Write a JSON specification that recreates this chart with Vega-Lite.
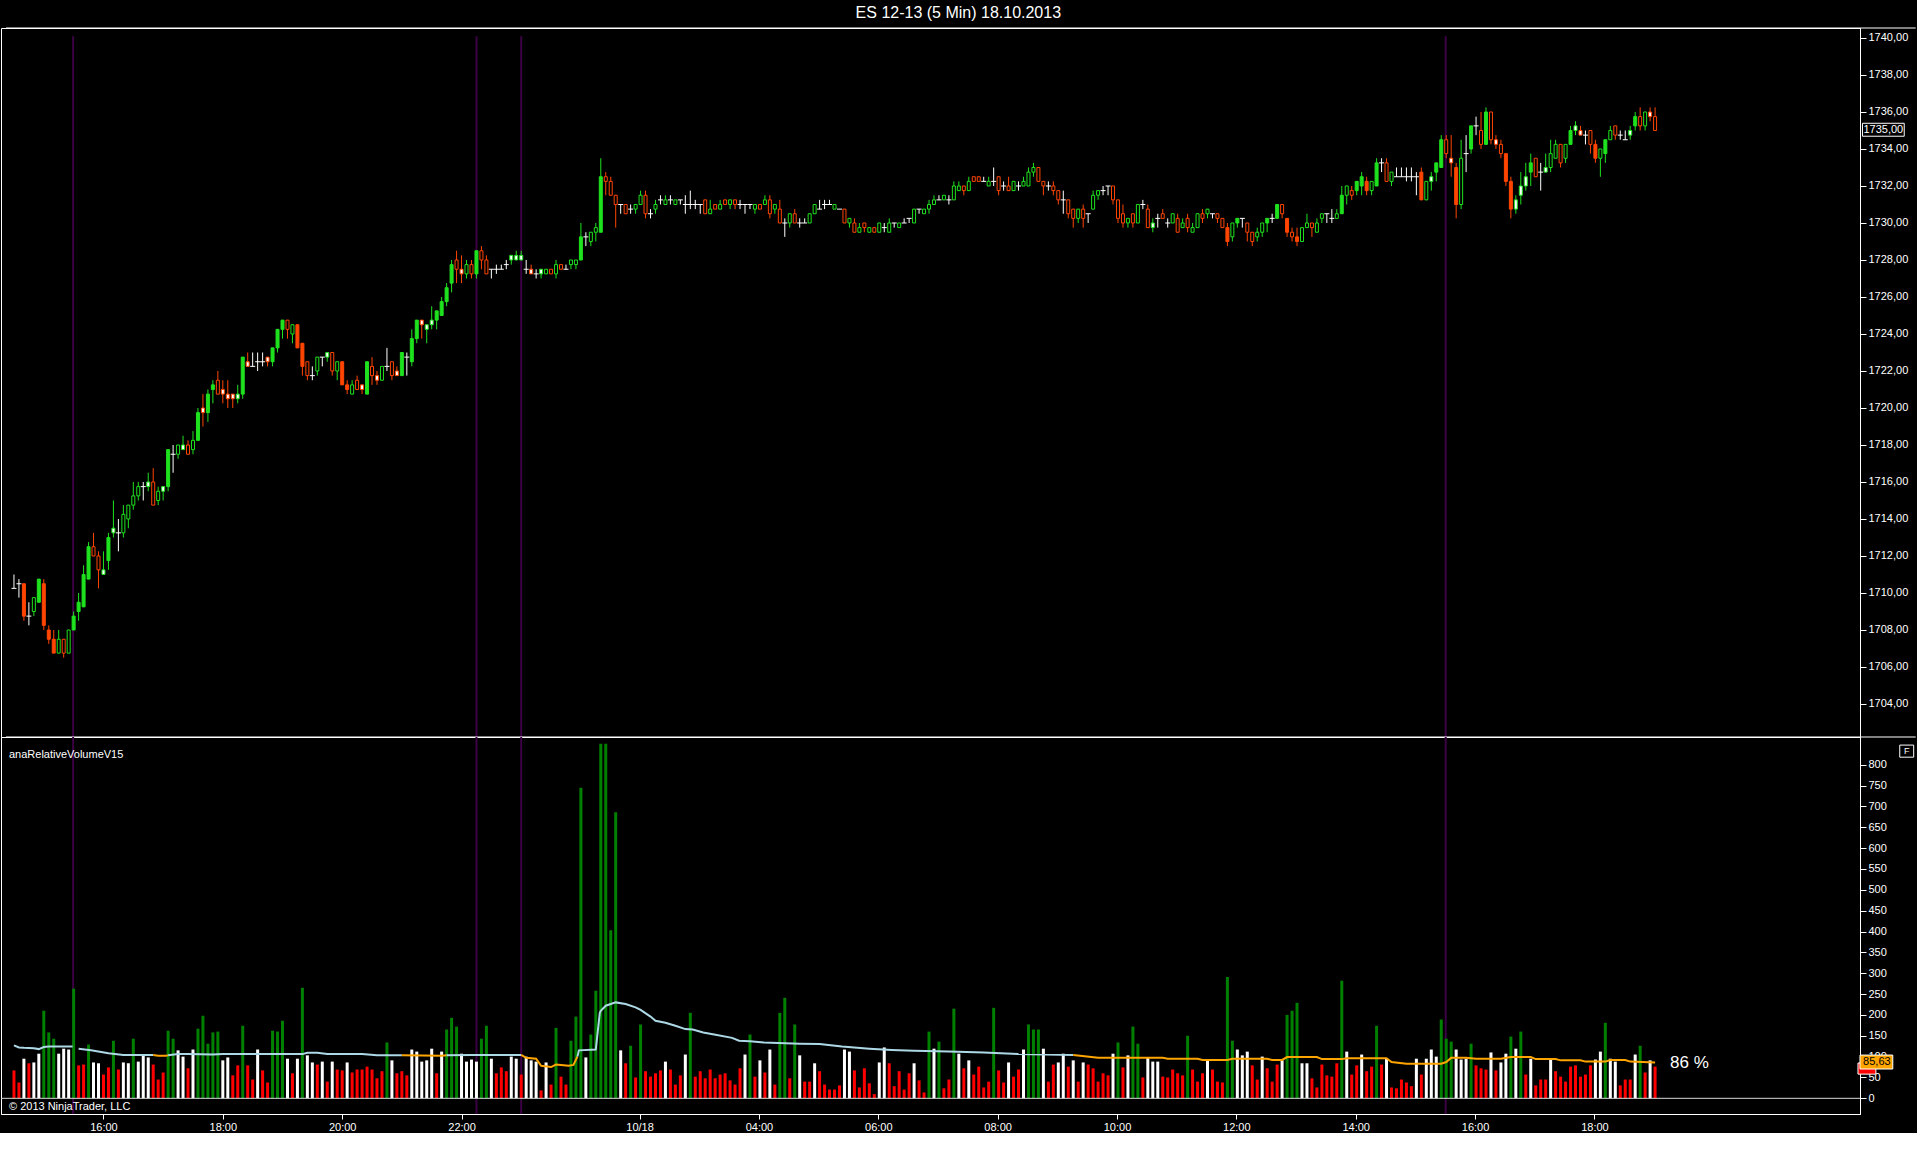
{
"$schema": "https://vega.github.io/schema/vega-lite/v6.json",
"background": "#000000",
"padding": {"top": 5, "left": 0, "right": 0, "bottom": 0},
"bounds": "flush",
"spacing": 0,
"resolve": {"scale": {"color": "independent", "stroke": "independent", "fill": "independent"}},
"title": {"text": "ES 12-13 (5 Min)  18.10.2013", "color": "#ffffff", "font": "Liberation Sans", "fontSize": 16, "fontWeight": "normal", "anchor": "middle", "offset": 6},
"config": {
  "view": {"stroke": "#ffffff", "strokeWidth": 1},
  "axis": {"labelColor": "#ffffff", "tickColor": "#ffffff", "domainColor": "#ffffff", "labelFont": "Liberation Sans", "labelFontSize": 11, "grid": false, "tickSize": 6, "labelPadding": 2, "labelOverlap": false}
},
"datasets": {
"sess": [{"p": 11.9}, {"p": 93}, {"p": 102}, {"p": 287.9}],
"avg": [
{"i":0,"a":127,"s":1,"k":"b"},{"i":1,"a":122,"s":1,"k":"b"},{"i":2,"a":121,"s":1,"k":"b"},{"i":4,"a":120,"s":1,"k":"b"},{"i":5,"a":118,"s":1,"k":"b"},{"i":6,"a":123,"s":1,"k":"b"},{"i":7,"a":124,"s":1,"k":"b"},{"i":11.8,"a":124,"s":1,"k":"b"},
{"i":13,"a":119,"s":2,"k":"b"},{"i":15.5,"a":115,"s":2,"k":"b"},{"i":19,"a":108,"s":2,"k":"b"},{"i":22,"a":104,"s":2,"k":"b"},{"i":28,"a":104,"s":2,"k":"b"},
{"i":28,"a":104,"s":3,"k":"o"},{"i":29,"a":102,"s":3,"k":"o"},{"i":30.5,"a":102,"s":3,"k":"o"},{"i":31,"a":103,"s":3,"k":"o"},
{"i":31,"a":103,"s":4,"k":"b"},{"i":33,"a":106,"s":4,"k":"b"},{"i":35,"a":106,"s":4,"k":"b"},{"i":40,"a":105,"s":4,"k":"b"},{"i":42,"a":106,"s":4,"k":"b"},{"i":58,"a":106,"s":4,"k":"b"},{"i":59,"a":109,"s":4,"k":"b"},{"i":61,"a":109,"s":4,"k":"b"},{"i":63,"a":106,"s":4,"k":"b"},{"i":70,"a":106,"s":4,"k":"b"},{"i":73,"a":103,"s":4,"k":"b"},{"i":78,"a":103,"s":4,"k":"b"},
{"i":78,"a":103,"s":5,"k":"o"},{"i":86,"a":102,"s":5,"k":"o"},{"i":87,"a":103,"s":5,"k":"o"},
{"i":87,"a":103,"s":6,"k":"b"},{"i":92,"a":104,"s":6,"k":"b"},{"i":102,"a":104,"s":6,"k":"b"},
{"i":102,"a":104,"s":7,"k":"o"},{"i":103,"a":97,"s":7,"k":"o"},{"i":105,"a":95,"s":7,"k":"o"},{"i":106,"a":78,"s":7,"k":"o"},{"i":108,"a":75,"s":7,"k":"o"},{"i":109,"a":81,"s":7,"k":"o"},{"i":110,"a":80,"s":7,"k":"o"},{"i":111.5,"a":78,"s":7,"k":"o"},{"i":112.5,"a":80,"s":7,"k":"o"},{"i":113.3,"a":100,"s":7,"k":"o"},
{"i":113.3,"a":100,"s":8,"k":"b"},{"i":113.6,"a":115,"s":8,"k":"b"},{"i":117,"a":117,"s":8,"k":"b"},{"i":117.8,"a":205,"s":8,"k":"b"},{"i":118,"a":210,"s":8,"k":"b"},{"i":119,"a":222,"s":8,"k":"b"},{"i":120,"a":226,"s":8,"k":"b"},{"i":121,"a":230,"s":8,"k":"b"},{"i":123,"a":226,"s":8,"k":"b"},{"i":125,"a":218,"s":8,"k":"b"},{"i":126,"a":212,"s":8,"k":"b"},{"i":128,"a":196,"s":8,"k":"b"},{"i":129,"a":186,"s":8,"k":"b"},{"i":131,"a":181,"s":8,"k":"b"},{"i":133,"a":174,"s":8,"k":"b"},{"i":135,"a":166,"s":8,"k":"b"},{"i":136.5,"a":165,"s":8,"k":"b"},{"i":138.6,"a":158,"s":8,"k":"b"},{"i":140.8,"a":153,"s":8,"k":"b"},{"i":144.4,"a":145,"s":8,"k":"b"},{"i":145.8,"a":138,"s":8,"k":"b"},{"i":148,"a":137,"s":8,"k":"b"},{"i":150.8,"a":134,"s":8,"k":"b"},{"i":158,"a":131,"s":8,"k":"b"},{"i":162,"a":130,"s":8,"k":"b"},{"i":166.5,"a":124,"s":8,"k":"b"},{"i":172,"a":119,"s":8,"k":"b"},{"i":176.5,"a":116,"s":8,"k":"b"},{"i":181,"a":114,"s":8,"k":"b"},{"i":188,"a":112,"s":8,"k":"b"},{"i":195,"a":110,"s":8,"k":"b"},{"i":202,"a":106,"s":8,"k":"b"},{"i":213,"a":104,"s":8,"k":"b"},
{"i":213,"a":104,"s":9,"k":"o"},{"i":218,"a":97,"s":9,"k":"o"},{"i":231,"a":97,"s":9,"k":"o"},{"i":232,"a":95,"s":9,"k":"o"},{"i":238,"a":95,"s":9,"k":"o"},{"i":239,"a":92,"s":9,"k":"o"},{"i":244,"a":92,"s":9,"k":"o"},{"i":245,"a":95,"s":9,"k":"o"},{"i":252,"a":95,"s":9,"k":"o"},{"i":253,"a":92,"s":9,"k":"o"},{"i":255,"a":92,"s":9,"k":"o"},{"i":256,"a":99,"s":9,"k":"o"},{"i":262,"a":99,"s":9,"k":"o"},{"i":263,"a":94,"s":9,"k":"o"},{"i":267,"a":94,"s":9,"k":"o"},{"i":268,"a":96,"s":9,"k":"o"},{"i":276,"a":96,"s":9,"k":"o"},{"i":277,"a":87,"s":9,"k":"o"},{"i":280,"a":83,"s":9,"k":"o"},{"i":287,"a":83,"s":9,"k":"o"},{"i":288,"a":87,"s":9,"k":"o"},{"i":289,"a":97,"s":9,"k":"o"},{"i":292,"a":97,"s":9,"k":"o"},{"i":294,"a":95,"s":9,"k":"o"},{"i":299,"a":95,"s":9,"k":"o"},{"i":301,"a":99,"s":9,"k":"o"},{"i":305,"a":99,"s":9,"k":"o"},{"i":306,"a":94,"s":9,"k":"o"},{"i":310,"a":94,"s":9,"k":"o"},{"i":311,"a":91,"s":9,"k":"o"},{"i":315,"a":91,"s":9,"k":"o"},{"i":316,"a":88,"s":9,"k":"o"},{"i":320,"a":88,"s":9,"k":"o"},{"i":321,"a":92,"s":9,"k":"o"},{"i":324,"a":92,"s":9,"k":"o"},{"i":325,"a":88,"s":9,"k":"o"},{"i":330,"a":86,"s":9,"k":"o"}
],
"bars": [
{"i":0,"o":1710.25,"h":1711,"l":1710.25,"c":1710.25,"k":"w","f":"k","v":67,"q":"r"},
{"i":1,"o":1710.5,"h":1710.75,"l":1709.75,"c":1710.5,"k":"w","f":"k","v":38,"q":"r"},
{"i":2,"o":1710.5,"h":1710.5,"l":1708.5,"c":1708.75,"k":"r","f":"r","v":95,"q":"w"},
{"i":3,"o":1708.75,"h":1709.5,"l":1708.25,"c":1708.75,"k":"w","f":"k","v":84,"q":"r"},
{"i":4,"o":1709,"h":1709.75,"l":1708.75,"c":1709.75,"k":"g","f":"k","v":86,"q":"w"},
{"i":5,"o":1709.5,"h":1710.75,"l":1709.5,"c":1710.75,"k":"g","f":"g","v":107,"q":"w"},
{"i":6,"o":1710.5,"h":1710.75,"l":1708,"c":1708.25,"k":"r","f":"r","v":210,"q":"g"},
{"i":7,"o":1708,"h":1708.25,"l":1707.25,"c":1707.5,"k":"r","f":"r","v":158,"q":"g"},
{"i":8,"o":1707.5,"h":1708,"l":1706.75,"c":1706.75,"k":"r","f":"r","v":143,"q":"g"},
{"i":9,"o":1706.75,"h":1708,"l":1706.75,"c":1707.5,"k":"g","f":"k","v":107,"q":"w"},
{"i":10,"o":1707.5,"h":1707.5,"l":1706.5,"c":1706.75,"k":"r","f":"k","v":119,"q":"w"},
{"i":11,"o":1706.75,"h":1708,"l":1706.75,"c":1708,"k":"g","f":"k","v":117,"q":"w"},
{"i":12,"o":1708,"h":1709,"l":1708,"c":1708.75,"k":"g","f":"g","v":263,"q":"g"},
{"i":13,"o":1709,"h":1710,"l":1708.5,"c":1709.5,"k":"g","f":"g","v":79,"q":"r"},
{"i":14,"o":1709.25,"h":1711.5,"l":1709.25,"c":1711,"k":"g","f":"g","v":81,"q":"r"},
{"i":15,"o":1710.75,"h":1712.75,"l":1710.75,"c":1712.5,"k":"g","f":"g","v":129,"q":"g"},
{"i":16,"o":1712.5,"h":1713.25,"l":1712,"c":1712,"k":"r","f":"k","v":86,"q":"w"},
{"i":17,"o":1712,"h":1712.25,"l":1710.25,"c":1711.25,"k":"r","f":"k","v":84,"q":"w"},
{"i":18,"o":1711,"h":1712.25,"l":1711,"c":1711.25,"k":"g","f":"w","v":57,"q":"r"},
{"i":19,"o":1711.75,"h":1713.25,"l":1711.25,"c":1713,"k":"g","f":"g","v":74,"q":"r"},
{"i":20,"o":1713.25,"h":1715,"l":1713,"c":1713.5,"k":"g","f":"w","v":138,"q":"g"},
{"i":21,"o":1713.25,"h":1714,"l":1712.25,"c":1713.25,"k":"w","f":"k","v":69,"q":"r"},
{"i":22,"o":1713.25,"h":1714.75,"l":1713,"c":1714.25,"k":"g","f":"k","v":86,"q":"w"},
{"i":23,"o":1714,"h":1714.75,"l":1713.5,"c":1714.75,"k":"g","f":"k","v":84,"q":"w"},
{"i":24,"o":1714.75,"h":1716,"l":1714.5,"c":1715.25,"k":"g","f":"k","v":143,"q":"g"},
{"i":25,"o":1715.25,"h":1716,"l":1715,"c":1715.75,"k":"g","f":"k","v":88,"q":"w"},
{"i":26,"o":1715.75,"h":1716,"l":1715,"c":1715.75,"k":"w","f":"k","v":105,"q":"w"},
{"i":27,"o":1715.75,"h":1716.5,"l":1715.5,"c":1716,"k":"g","f":"w","v":98,"q":"w"},
{"i":28,"o":1716,"h":1716.75,"l":1714.75,"c":1714.75,"k":"r","f":"k","v":81,"q":"r"},
{"i":29,"o":1715,"h":1715.75,"l":1714.75,"c":1715.5,"k":"g","f":"k","v":45,"q":"r"},
{"i":30,"o":1715.5,"h":1715.75,"l":1715,"c":1715.75,"k":"g","f":"w","v":62,"q":"r"},
{"i":31,"o":1715.75,"h":1717.75,"l":1715.5,"c":1717.75,"k":"g","f":"g","v":162,"q":"g"},
{"i":32,"o":1717.5,"h":1718,"l":1716.5,"c":1717.5,"k":"w","f":"k","v":143,"q":"g"},
{"i":33,"o":1717.5,"h":1718,"l":1717.25,"c":1718,"k":"g","f":"k","v":115,"q":"w"},
{"i":34,"o":1717.75,"h":1718.5,"l":1717.75,"c":1718,"k":"g","f":"w","v":100,"q":"w"},
{"i":35,"o":1718,"h":1718.25,"l":1717.5,"c":1717.5,"k":"r","f":"k","v":72,"q":"r"},
{"i":36,"o":1717.75,"h":1718.75,"l":1717.5,"c":1718.25,"k":"g","f":"k","v":117,"q":"w"},
{"i":37,"o":1718.25,"h":1720,"l":1718.25,"c":1719.75,"k":"g","f":"g","v":167,"q":"g"},
{"i":38,"o":1720,"h":1720.75,"l":1719,"c":1719.75,"k":"r","f":"w","v":198,"q":"g"},
{"i":39,"o":1719.75,"h":1721,"l":1719.25,"c":1720.75,"k":"g","f":"g","v":131,"q":"g"},
{"i":40,"o":1721,"h":1721.5,"l":1720.25,"c":1721.25,"k":"g","f":"g","v":158,"q":"g"},
{"i":41,"o":1721.5,"h":1722,"l":1720.75,"c":1720.75,"k":"r","f":"k","v":160,"q":"g"},
{"i":42,"o":1721,"h":1721.5,"l":1720.25,"c":1720.75,"k":"r","f":"w","v":91,"q":"w"},
{"i":43,"o":1720.75,"h":1721.5,"l":1720,"c":1720.5,"k":"r","f":"w","v":98,"q":"w"},
{"i":44,"o":1720.75,"h":1720.75,"l":1720,"c":1720.5,"k":"r","f":"w","v":55,"q":"r"},
{"i":45,"o":1720.5,"h":1721.25,"l":1720.25,"c":1720.75,"k":"g","f":"w","v":79,"q":"r"},
{"i":46,"o":1720.75,"h":1722.75,"l":1720.5,"c":1722.75,"k":"g","f":"g","v":174,"q":"g"},
{"i":47,"o":1722.5,"h":1723,"l":1722.25,"c":1722.25,"k":"r","f":"w","v":79,"q":"r"},
{"i":48,"o":1722.25,"h":1723,"l":1722.25,"c":1722.25,"k":"w","f":"k","v":45,"q":"r"},
{"i":49,"o":1722.5,"h":1723,"l":1722,"c":1722.5,"k":"w","f":"k","v":117,"q":"w"},
{"i":50,"o":1722.5,"h":1723,"l":1722.25,"c":1722.5,"k":"w","f":"k","v":67,"q":"r"},
{"i":51,"o":1722.75,"h":1722.75,"l":1722.25,"c":1722.5,"k":"r","f":"w","v":38,"q":"r"},
{"i":52,"o":1722.5,"h":1723.25,"l":1722.25,"c":1723.25,"k":"g","f":"g","v":162,"q":"g"},
{"i":53,"o":1723.25,"h":1724.25,"l":1723,"c":1724.25,"k":"g","f":"g","v":160,"q":"g"},
{"i":54,"o":1724.25,"h":1724.75,"l":1723.75,"c":1724.75,"k":"g","f":"g","v":186,"q":"g"},
{"i":55,"o":1724.75,"h":1724.75,"l":1723.75,"c":1724.25,"k":"r","f":"k","v":95,"q":"w"},
{"i":56,"o":1724,"h":1724.5,"l":1723.5,"c":1724.5,"k":"g","f":"k","v":60,"q":"r"},
{"i":57,"o":1724.5,"h":1724.5,"l":1723.25,"c":1723.25,"k":"r","f":"r","v":95,"q":"w"},
{"i":58,"o":1723.5,"h":1723.5,"l":1721.75,"c":1722.25,"k":"r","f":"r","v":265,"q":"g"},
{"i":59,"o":1722.5,"h":1722.5,"l":1721.5,"c":1721.75,"k":"r","f":"k","v":103,"q":"w"},
{"i":60,"o":1721.75,"h":1722.25,"l":1721.5,"c":1721.75,"k":"w","f":"k","v":86,"q":"w"},
{"i":61,"o":1722,"h":1722.75,"l":1721.75,"c":1722.75,"k":"g","f":"k","v":81,"q":"r"},
{"i":62,"o":1722.75,"h":1722.75,"l":1722.25,"c":1722.75,"k":"w","f":"k","v":88,"q":"w"},
{"i":63,"o":1722.75,"h":1723,"l":1722.5,"c":1723,"k":"g","f":"w","v":40,"q":"r"},
{"i":64,"o":1723,"h":1723,"l":1721.75,"c":1722,"k":"r","f":"k","v":88,"q":"w"},
{"i":65,"o":1722,"h":1722.5,"l":1721.5,"c":1722.5,"k":"g","f":"k","v":69,"q":"r"},
{"i":66,"o":1722.5,"h":1722.5,"l":1721.25,"c":1721.25,"k":"r","f":"r","v":67,"q":"r"},
{"i":67,"o":1721.25,"h":1721.5,"l":1720.75,"c":1721,"k":"r","f":"r","v":86,"q":"w"},
{"i":68,"o":1720.75,"h":1721.5,"l":1720.75,"c":1721.25,"k":"g","f":"k","v":62,"q":"r"},
{"i":69,"o":1721.5,"h":1721.75,"l":1721,"c":1721,"k":"r","f":"k","v":69,"q":"r"},
{"i":70,"o":1721.25,"h":1721.25,"l":1720.75,"c":1721,"k":"r","f":"w","v":69,"q":"r"},
{"i":71,"o":1720.75,"h":1722.5,"l":1720.75,"c":1722.5,"k":"g","f":"g","v":76,"q":"r"},
{"i":72,"o":1722.25,"h":1722.75,"l":1721.25,"c":1721.75,"k":"r","f":"k","v":69,"q":"r"},
{"i":73,"o":1721.75,"h":1722,"l":1721.25,"c":1721.5,"k":"r","f":"w","v":48,"q":"r"},
{"i":74,"o":1721.5,"h":1722.25,"l":1721.5,"c":1722.25,"k":"g","f":"k","v":65,"q":"r"},
{"i":75,"o":1722.25,"h":1723.25,"l":1722,"c":1722.25,"k":"w","f":"k","v":134,"q":"g"},
{"i":76,"o":1722.5,"h":1722.5,"l":1721.5,"c":1721.75,"k":"r","f":"k","v":91,"q":"w"},
{"i":77,"o":1722,"h":1722.25,"l":1721.75,"c":1721.75,"k":"r","f":"w","v":60,"q":"r"},
{"i":78,"o":1721.75,"h":1723,"l":1721.75,"c":1723,"k":"g","f":"g","v":65,"q":"r"},
{"i":79,"o":1722.75,"h":1723,"l":1721.75,"c":1722.75,"k":"w","f":"k","v":55,"q":"r"},
{"i":80,"o":1722.5,"h":1724.25,"l":1722.25,"c":1723.75,"k":"g","f":"g","v":117,"q":"w"},
{"i":81,"o":1723.75,"h":1724.75,"l":1723.5,"c":1724.75,"k":"g","f":"g","v":112,"q":"w"},
{"i":82,"o":1724.75,"h":1724.75,"l":1723.75,"c":1724.5,"k":"r","f":"w","v":88,"q":"w"},
{"i":83,"o":1724.25,"h":1724.5,"l":1723.5,"c":1724.5,"k":"g","f":"w","v":91,"q":"w"},
{"i":84,"o":1724.5,"h":1725.5,"l":1724.25,"c":1724.75,"k":"g","f":"w","v":119,"q":"w"},
{"i":85,"o":1724.75,"h":1725.25,"l":1724.25,"c":1725.25,"k":"g","f":"g","v":60,"q":"r"},
{"i":86,"o":1725,"h":1726,"l":1725,"c":1725.75,"k":"g","f":"g","v":112,"q":"w"},
{"i":87,"o":1725.75,"h":1726.75,"l":1725.5,"c":1726.5,"k":"g","f":"g","v":165,"q":"g"},
{"i":88,"o":1726.75,"h":1728,"l":1726.25,"c":1727.75,"k":"g","f":"g","v":193,"q":"g"},
{"i":89,"o":1728,"h":1728.5,"l":1726.75,"c":1727.5,"k":"r","f":"k","v":172,"q":"g"},
{"i":90,"o":1727.5,"h":1728.25,"l":1726.75,"c":1727.25,"k":"r","f":"w","v":107,"q":"w"},
{"i":91,"o":1727.25,"h":1728,"l":1727,"c":1727.75,"k":"g","f":"k","v":88,"q":"w"},
{"i":92,"o":1727.75,"h":1728,"l":1727,"c":1727.25,"k":"r","f":"k","v":93,"q":"w"},
{"i":93,"o":1727.25,"h":1728.5,"l":1727,"c":1728.5,"k":"g","f":"g","v":88,"q":"w"},
{"i":94,"o":1728.5,"h":1728.75,"l":1727.5,"c":1728,"k":"r","f":"k","v":143,"q":"g"},
{"i":95,"o":1728,"h":1728.25,"l":1727.25,"c":1727.25,"k":"r","f":"k","v":174,"q":"g"},
{"i":96,"o":1727.5,"h":1727.5,"l":1727,"c":1727.5,"k":"w","f":"k","v":95,"q":"w"},
{"i":97,"o":1727.5,"h":1727.75,"l":1727.25,"c":1727.5,"k":"w","f":"k","v":60,"q":"r"},
{"i":98,"o":1727.5,"h":1727.75,"l":1727.5,"c":1727.5,"k":"w","f":"k","v":74,"q":"r"},
{"i":99,"o":1727.75,"h":1728,"l":1727.5,"c":1727.75,"k":"w","f":"k","v":65,"q":"r"},
{"i":100,"o":1728,"h":1728.25,"l":1727.75,"c":1728.25,"k":"g","f":"w","v":100,"q":"w"},
{"i":101,"o":1728,"h":1728.5,"l":1728,"c":1728.25,"k":"g","f":"w","v":95,"q":"w"},
{"i":102,"o":1728,"h":1728.5,"l":1728,"c":1728.25,"k":"g","f":"w","v":57,"q":"r"},
{"i":103,"o":1727.5,"h":1728,"l":1727.25,"c":1727.5,"k":"w","f":"k","v":100,"q":"w"},
{"i":104,"o":1727.5,"h":1727.75,"l":1727.25,"c":1727.25,"k":"r","f":"w","v":91,"q":"w"},
{"i":105,"o":1727.25,"h":1727.5,"l":1727,"c":1727.25,"k":"w","f":"k","v":88,"q":"w"},
{"i":106,"o":1727.25,"h":1727.5,"l":1727,"c":1727.5,"k":"g","f":"w","v":19,"q":"r"},
{"i":107,"o":1727.25,"h":1727.5,"l":1727.25,"c":1727.5,"k":"g","f":"k","v":86,"q":"w"},
{"i":108,"o":1727.5,"h":1727.5,"l":1727.25,"c":1727.25,"k":"r","f":"k","v":33,"q":"r"},
{"i":109,"o":1727.25,"h":1728,"l":1727,"c":1727.75,"k":"g","f":"k","v":169,"q":"g"},
{"i":110,"o":1727.75,"h":1727.75,"l":1727.5,"c":1727.5,"k":"r","f":"k","v":52,"q":"r"},
{"i":111,"o":1727.5,"h":1727.75,"l":1727.5,"c":1727.5,"k":"w","f":"k","v":33,"q":"r"},
{"i":112,"o":1727.75,"h":1728,"l":1727.5,"c":1728,"k":"g","f":"k","v":138,"q":"g"},
{"i":113,"o":1727.75,"h":1728,"l":1727.5,"c":1728,"k":"g","f":"k","v":196,"q":"g"},
{"i":114,"o":1728,"h":1730,"l":1728,"c":1729.25,"k":"g","f":"g","v":745,"q":"g"},
{"i":115,"o":1729.25,"h":1729.5,"l":1728.75,"c":1729.25,"k":"w","f":"k","v":98,"q":"w"},
{"i":116,"o":1729,"h":1729.5,"l":1728.75,"c":1729.5,"k":"g","f":"k","v":153,"q":"g"},
{"i":117,"o":1729.5,"h":1730,"l":1729,"c":1729.75,"k":"g","f":"k","v":258,"q":"g"},
{"i":118,"o":1729.5,"h":1733.5,"l":1729.5,"c":1732.5,"k":"g","f":"g","v":850,"q":"g"},
{"i":119,"o":1732.5,"h":1732.75,"l":1731.5,"c":1732.25,"k":"r","f":"k","v":850,"q":"g"},
{"i":120,"o":1732.25,"h":1732.5,"l":1731.5,"c":1731.5,"k":"r","f":"k","v":403,"q":"g"},
{"i":121,"o":1731.5,"h":1731.5,"l":1729.75,"c":1731,"k":"r","f":"k","v":686,"q":"g"},
{"i":122,"o":1731,"h":1731,"l":1730.5,"c":1731,"k":"w","f":"k","v":115,"q":"w"},
{"i":123,"o":1731,"h":1731,"l":1730.5,"c":1730.5,"k":"r","f":"k","v":84,"q":"r"},
{"i":124,"o":1730.75,"h":1731,"l":1730.5,"c":1730.75,"k":"w","f":"k","v":126,"q":"g"},
{"i":125,"o":1730.75,"h":1731,"l":1730.5,"c":1731,"k":"g","f":"k","v":50,"q":"r"},
{"i":126,"o":1731,"h":1731.75,"l":1731,"c":1731.5,"k":"g","f":"k","v":177,"q":"g"},
{"i":127,"o":1731.5,"h":1731.75,"l":1730.25,"c":1730.5,"k":"r","f":"k","v":65,"q":"r"},
{"i":128,"o":1730.5,"h":1730.75,"l":1730.25,"c":1730.5,"k":"w","f":"k","v":52,"q":"r"},
{"i":129,"o":1730.75,"h":1731.25,"l":1730.5,"c":1731,"k":"g","f":"k","v":60,"q":"r"},
{"i":130,"o":1731.25,"h":1731.5,"l":1731,"c":1731.25,"k":"w","f":"k","v":67,"q":"r"},
{"i":131,"o":1731,"h":1731.5,"l":1731,"c":1731.25,"k":"g","f":"k","v":88,"q":"w"},
{"i":132,"o":1731.25,"h":1731.5,"l":1731,"c":1731.25,"k":"w","f":"k","v":69,"q":"r"},
{"i":133,"o":1731,"h":1731.25,"l":1731,"c":1731.25,"k":"g","f":"k","v":33,"q":"r"},
{"i":134,"o":1731.25,"h":1731.25,"l":1731,"c":1731.25,"k":"w","f":"k","v":55,"q":"r"},
{"i":135,"o":1731,"h":1731.5,"l":1730.5,"c":1731,"k":"w","f":"k","v":105,"q":"w"},
{"i":136,"o":1731,"h":1731.75,"l":1730.75,"c":1731,"k":"w","f":"k","v":205,"q":"g"},
{"i":137,"o":1731,"h":1731.25,"l":1730.75,"c":1731,"k":"w","f":"k","v":52,"q":"r"},
{"i":138,"o":1731,"h":1731,"l":1730.5,"c":1731,"k":"w","f":"k","v":65,"q":"r"},
{"i":139,"o":1731.25,"h":1731.25,"l":1730.5,"c":1730.5,"k":"r","f":"k","v":48,"q":"r"},
{"i":140,"o":1730.5,"h":1731.25,"l":1730.5,"c":1730.75,"k":"g","f":"k","v":69,"q":"r"},
{"i":141,"o":1731,"h":1731,"l":1730.75,"c":1730.75,"k":"r","f":"k","v":48,"q":"r"},
{"i":142,"o":1730.75,"h":1731.25,"l":1730.75,"c":1731,"k":"g","f":"k","v":57,"q":"r"},
{"i":143,"o":1731.25,"h":1731.25,"l":1731,"c":1731,"k":"r","f":"k","v":60,"q":"r"},
{"i":144,"o":1731,"h":1731.25,"l":1730.75,"c":1731.25,"k":"g","f":"k","v":43,"q":"r"},
{"i":145,"o":1731.25,"h":1731.25,"l":1730.75,"c":1731,"k":"r","f":"k","v":33,"q":"r"},
{"i":146,"o":1731,"h":1731.25,"l":1730.75,"c":1731,"k":"w","f":"k","v":72,"q":"r"},
{"i":147,"o":1731,"h":1731,"l":1730.5,"c":1731,"k":"w","f":"k","v":105,"q":"w"},
{"i":148,"o":1731,"h":1731,"l":1730.75,"c":1731,"k":"w","f":"k","v":153,"q":"g"},
{"i":149,"o":1730.75,"h":1731,"l":1730.5,"c":1731,"k":"g","f":"k","v":52,"q":"r"},
{"i":150,"o":1731,"h":1731,"l":1730.75,"c":1730.75,"k":"r","f":"k","v":91,"q":"w"},
{"i":151,"o":1731,"h":1731.5,"l":1731,"c":1731.25,"k":"g","f":"k","v":62,"q":"r"},
{"i":152,"o":1731.25,"h":1731.5,"l":1730.25,"c":1730.5,"k":"r","f":"k","v":117,"q":"w"},
{"i":153,"o":1730.75,"h":1731,"l":1730.5,"c":1731,"k":"g","f":"k","v":33,"q":"r"},
{"i":154,"o":1730.75,"h":1731.25,"l":1730,"c":1730,"k":"r","f":"k","v":205,"q":"g"},
{"i":155,"o":1730,"h":1730.25,"l":1729.25,"c":1730,"k":"w","f":"k","v":241,"q":"g"},
{"i":156,"o":1730,"h":1730.5,"l":1729.75,"c":1730.5,"k":"g","f":"k","v":48,"q":"r"},
{"i":157,"o":1730.5,"h":1730.75,"l":1730,"c":1730,"k":"r","f":"k","v":177,"q":"g"},
{"i":158,"o":1730,"h":1730.25,"l":1729.75,"c":1730,"k":"w","f":"k","v":103,"q":"w"},
{"i":159,"o":1730,"h":1730.25,"l":1730,"c":1730,"k":"w","f":"k","v":40,"q":"r"},
{"i":160,"o":1730,"h":1730.5,"l":1730,"c":1730.5,"k":"g","f":"k","v":40,"q":"r"},
{"i":161,"o":1730.5,"h":1731,"l":1730.5,"c":1731,"k":"g","f":"k","v":84,"q":"w"},
{"i":162,"o":1730.75,"h":1731.25,"l":1730.75,"c":1730.75,"k":"w","f":"k","v":65,"q":"r"},
{"i":163,"o":1731,"h":1731.25,"l":1730.75,"c":1731,"k":"w","f":"k","v":33,"q":"r"},
{"i":164,"o":1731,"h":1731.25,"l":1731,"c":1731,"k":"w","f":"k","v":21,"q":"r"},
{"i":165,"o":1730.75,"h":1731,"l":1730.75,"c":1731,"k":"g","f":"k","v":21,"q":"r"},
{"i":166,"o":1730.75,"h":1730.75,"l":1730.75,"c":1730.75,"k":"w","f":"k","v":31,"q":"r"},
{"i":167,"o":1730.75,"h":1730.75,"l":1730,"c":1730,"k":"r","f":"k","v":117,"q":"w"},
{"i":168,"o":1730,"h":1730.25,"l":1729.75,"c":1730.25,"k":"g","f":"k","v":112,"q":"w"},
{"i":169,"o":1730,"h":1730.25,"l":1729.5,"c":1729.5,"k":"r","f":"k","v":67,"q":"r"},
{"i":170,"o":1729.5,"h":1730,"l":1729.5,"c":1729.75,"k":"g","f":"k","v":26,"q":"r"},
{"i":171,"o":1730,"h":1730,"l":1729.5,"c":1729.75,"k":"r","f":"k","v":72,"q":"r"},
{"i":172,"o":1729.5,"h":1729.75,"l":1729.5,"c":1729.75,"k":"g","f":"k","v":36,"q":"r"},
{"i":173,"o":1729.75,"h":1729.75,"l":1729.5,"c":1729.5,"k":"r","f":"k","v":10,"q":"r"},
{"i":174,"o":1729.5,"h":1730,"l":1729.5,"c":1730,"k":"g","f":"k","v":86,"q":"w"},
{"i":175,"o":1729.75,"h":1730,"l":1729.5,"c":1729.75,"k":"w","f":"k","v":122,"q":"w"},
{"i":176,"o":1729.5,"h":1730.25,"l":1729.5,"c":1730,"k":"g","f":"k","v":84,"q":"r"},
{"i":177,"o":1730,"h":1730,"l":1729.75,"c":1730,"k":"w","f":"k","v":29,"q":"r"},
{"i":178,"o":1729.75,"h":1730,"l":1729.75,"c":1730,"k":"g","f":"k","v":65,"q":"r"},
{"i":179,"o":1730,"h":1730.25,"l":1730,"c":1730,"k":"w","f":"k","v":21,"q":"r"},
{"i":180,"o":1730.25,"h":1730.25,"l":1730,"c":1730.25,"k":"w","f":"k","v":60,"q":"r"},
{"i":181,"o":1730,"h":1730.75,"l":1730,"c":1730.75,"k":"g","f":"k","v":84,"q":"w"},
{"i":182,"o":1730.75,"h":1730.75,"l":1730.5,"c":1730.75,"k":"w","f":"k","v":43,"q":"r"},
{"i":183,"o":1730.5,"h":1730.75,"l":1730.5,"c":1730.75,"k":"g","f":"k","v":14,"q":"r"},
{"i":184,"o":1730.75,"h":1731.25,"l":1730.5,"c":1731,"k":"g","f":"k","v":160,"q":"g"},
{"i":185,"o":1731,"h":1731.5,"l":1731,"c":1731.25,"k":"g","f":"k","v":119,"q":"w"},
{"i":186,"o":1731.25,"h":1731.5,"l":1731.25,"c":1731.25,"k":"w","f":"k","v":136,"q":"g"},
{"i":187,"o":1731.25,"h":1731.5,"l":1731.25,"c":1731.5,"k":"g","f":"k","v":24,"q":"r"},
{"i":188,"o":1731.25,"h":1731.5,"l":1731,"c":1731.25,"k":"w","f":"k","v":45,"q":"r"},
{"i":189,"o":1731.25,"h":1732.25,"l":1731.25,"c":1732,"k":"g","f":"k","v":215,"q":"g"},
{"i":190,"o":1731.75,"h":1732.25,"l":1731.75,"c":1732,"k":"g","f":"k","v":107,"q":"w"},
{"i":191,"o":1732,"h":1732,"l":1731.5,"c":1731.75,"k":"r","f":"k","v":72,"q":"r"},
{"i":192,"o":1731.75,"h":1732.5,"l":1731.75,"c":1732.25,"k":"g","f":"k","v":91,"q":"w"},
{"i":193,"o":1732.5,"h":1732.5,"l":1732.25,"c":1732.25,"k":"r","f":"k","v":57,"q":"r"},
{"i":194,"o":1732.5,"h":1732.5,"l":1732.25,"c":1732.25,"k":"r","f":"k","v":76,"q":"r"},
{"i":195,"o":1732.25,"h":1732.5,"l":1732.25,"c":1732.25,"k":"w","f":"k","v":26,"q":"r"},
{"i":196,"o":1732,"h":1732.5,"l":1732,"c":1732.25,"k":"g","f":"k","v":40,"q":"r"},
{"i":197,"o":1732.25,"h":1733,"l":1732,"c":1732.25,"k":"w","f":"k","v":217,"q":"g"},
{"i":198,"o":1732.5,"h":1732.5,"l":1731.5,"c":1731.75,"k":"r","f":"k","v":67,"q":"r"},
{"i":199,"o":1732,"h":1732.25,"l":1731.75,"c":1732,"k":"w","f":"k","v":38,"q":"r"},
{"i":200,"o":1732,"h":1732.5,"l":1731.75,"c":1731.75,"k":"r","f":"k","v":86,"q":"w"},
{"i":201,"o":1731.75,"h":1732.25,"l":1731.75,"c":1732.25,"k":"g","f":"k","v":52,"q":"r"},
{"i":202,"o":1732,"h":1732.25,"l":1731.75,"c":1732,"k":"w","f":"k","v":69,"q":"r"},
{"i":203,"o":1732,"h":1732.5,"l":1732,"c":1732.25,"k":"g","f":"k","v":117,"q":"w"},
{"i":204,"o":1732,"h":1733,"l":1732,"c":1732.75,"k":"g","f":"k","v":177,"q":"g"},
{"i":205,"o":1732.75,"h":1733.25,"l":1732.5,"c":1733,"k":"g","f":"k","v":165,"q":"g"},
{"i":206,"o":1733,"h":1733,"l":1732.25,"c":1732.25,"k":"r","f":"k","v":165,"q":"g"},
{"i":207,"o":1732.25,"h":1732.25,"l":1731.5,"c":1732,"k":"r","f":"k","v":119,"q":"w"},
{"i":208,"o":1732,"h":1732.25,"l":1731.75,"c":1732,"k":"w","f":"k","v":40,"q":"r"},
{"i":209,"o":1732,"h":1732.25,"l":1731.5,"c":1731.75,"k":"r","f":"k","v":81,"q":"r"},
{"i":210,"o":1731.75,"h":1731.75,"l":1731,"c":1731.25,"k":"r","f":"k","v":86,"q":"w"},
{"i":211,"o":1731.25,"h":1731.75,"l":1730.5,"c":1731.25,"k":"w","f":"k","v":107,"q":"w"},
{"i":212,"o":1731.25,"h":1731.25,"l":1730.25,"c":1730.5,"k":"r","f":"k","v":76,"q":"r"},
{"i":213,"o":1730.75,"h":1730.75,"l":1729.75,"c":1730.25,"k":"r","f":"k","v":91,"q":"w"},
{"i":214,"o":1730.25,"h":1730.75,"l":1730,"c":1730.75,"k":"g","f":"k","v":40,"q":"r"},
{"i":215,"o":1730.75,"h":1731,"l":1729.75,"c":1730.25,"k":"r","f":"k","v":86,"q":"w"},
{"i":216,"o":1730.5,"h":1730.5,"l":1730,"c":1730.5,"k":"w","f":"k","v":81,"q":"r"},
{"i":217,"o":1730.75,"h":1731.75,"l":1730.75,"c":1731.5,"k":"g","f":"k","v":72,"q":"r"},
{"i":218,"o":1731.5,"h":1731.75,"l":1731.25,"c":1731.75,"k":"g","f":"k","v":40,"q":"r"},
{"i":219,"o":1731.75,"h":1732,"l":1731.5,"c":1731.75,"k":"w","f":"k","v":60,"q":"r"},
{"i":220,"o":1732,"h":1732,"l":1731.5,"c":1732,"k":"w","f":"k","v":55,"q":"r"},
{"i":221,"o":1732,"h":1732,"l":1731,"c":1731.25,"k":"r","f":"k","v":107,"q":"w"},
{"i":222,"o":1731.25,"h":1731.25,"l":1730,"c":1730.25,"k":"r","f":"k","v":134,"q":"g"},
{"i":223,"o":1730.5,"h":1731,"l":1729.75,"c":1730,"k":"r","f":"k","v":74,"q":"r"},
{"i":224,"o":1730,"h":1730.25,"l":1729.75,"c":1730.25,"k":"g","f":"k","v":103,"q":"w"},
{"i":225,"o":1730.5,"h":1730.5,"l":1729.75,"c":1730,"k":"r","f":"k","v":172,"q":"g"},
{"i":226,"o":1730,"h":1731,"l":1730,"c":1731,"k":"g","f":"k","v":131,"q":"g"},
{"i":227,"o":1731,"h":1731.25,"l":1730.75,"c":1731,"k":"w","f":"k","v":50,"q":"r"},
{"i":228,"o":1730.75,"h":1731,"l":1729.75,"c":1729.75,"k":"r","f":"k","v":98,"q":"w"},
{"i":229,"o":1729.75,"h":1730.25,"l":1729.5,"c":1730,"k":"g","f":"w","v":88,"q":"w"},
{"i":230,"o":1730.25,"h":1730.5,"l":1729.75,"c":1730.25,"k":"w","f":"k","v":88,"q":"w"},
{"i":231,"o":1730.5,"h":1730.75,"l":1730.25,"c":1730.25,"k":"r","f":"k","v":52,"q":"r"},
{"i":232,"o":1730,"h":1730.25,"l":1729.75,"c":1730,"k":"w","f":"k","v":50,"q":"r"},
{"i":233,"o":1730,"h":1730.5,"l":1730,"c":1730.5,"k":"g","f":"k","v":69,"q":"r"},
{"i":234,"o":1730.25,"h":1730.5,"l":1729.5,"c":1729.5,"k":"r","f":"k","v":60,"q":"r"},
{"i":235,"o":1729.75,"h":1730.25,"l":1729.75,"c":1730,"k":"g","f":"k","v":55,"q":"r"},
{"i":236,"o":1730.25,"h":1730.5,"l":1729.5,"c":1729.75,"k":"r","f":"k","v":150,"q":"g"},
{"i":237,"o":1729.5,"h":1730,"l":1729.5,"c":1729.75,"k":"g","f":"k","v":69,"q":"r"},
{"i":238,"o":1729.75,"h":1730.5,"l":1729.75,"c":1730.5,"k":"g","f":"k","v":40,"q":"r"},
{"i":239,"o":1730.5,"h":1730.75,"l":1730,"c":1730.25,"k":"r","f":"k","v":60,"q":"r"},
{"i":240,"o":1730.5,"h":1730.75,"l":1730.25,"c":1730.75,"k":"g","f":"k","v":93,"q":"w"},
{"i":241,"o":1730.5,"h":1730.5,"l":1730.25,"c":1730.5,"k":"w","f":"k","v":69,"q":"r"},
{"i":242,"o":1730.5,"h":1730.5,"l":1730,"c":1730.25,"k":"r","f":"k","v":40,"q":"r"},
{"i":243,"o":1730.25,"h":1730.25,"l":1729.75,"c":1729.75,"k":"r","f":"k","v":38,"q":"r"},
{"i":244,"o":1729.75,"h":1730,"l":1728.75,"c":1729,"k":"r","f":"r","v":291,"q":"g"},
{"i":245,"o":1729.25,"h":1730,"l":1729,"c":1730,"k":"g","f":"k","v":138,"q":"g"},
{"i":246,"o":1730,"h":1730.25,"l":1729.75,"c":1730.25,"k":"g","f":"g","v":117,"q":"w"},
{"i":247,"o":1730.25,"h":1730.25,"l":1729.75,"c":1730.25,"k":"w","f":"k","v":103,"q":"w"},
{"i":248,"o":1730,"h":1730,"l":1729,"c":1729.5,"k":"r","f":"k","v":112,"q":"w"},
{"i":249,"o":1729.5,"h":1729.5,"l":1728.75,"c":1729,"k":"r","f":"k","v":79,"q":"r"},
{"i":250,"o":1729.25,"h":1729.75,"l":1729,"c":1729.5,"k":"g","f":"k","v":45,"q":"r"},
{"i":251,"o":1729.5,"h":1730,"l":1729.25,"c":1730,"k":"g","f":"k","v":100,"q":"w"},
{"i":252,"o":1730,"h":1730.25,"l":1729.5,"c":1730.25,"k":"g","f":"g","v":72,"q":"r"},
{"i":253,"o":1730.25,"h":1730.5,"l":1730,"c":1730.25,"k":"w","f":"k","v":40,"q":"r"},
{"i":254,"o":1730.25,"h":1731,"l":1730.25,"c":1731,"k":"g","f":"g","v":81,"q":"r"},
{"i":255,"o":1731,"h":1731,"l":1730.25,"c":1730.5,"k":"r","f":"k","v":91,"q":"w"},
{"i":256,"o":1730.25,"h":1730.25,"l":1729.25,"c":1729.5,"k":"r","f":"r","v":200,"q":"g"},
{"i":257,"o":1729.5,"h":1729.75,"l":1729,"c":1729.25,"k":"r","f":"k","v":210,"q":"g"},
{"i":258,"o":1729.25,"h":1729.75,"l":1728.75,"c":1729,"k":"r","f":"r","v":229,"q":"g"},
{"i":259,"o":1729,"h":1729.75,"l":1729,"c":1729.75,"k":"g","f":"k","v":84,"q":"w"},
{"i":260,"o":1729.75,"h":1730.5,"l":1729.75,"c":1730,"k":"g","f":"k","v":84,"q":"w"},
{"i":261,"o":1730,"h":1730,"l":1729.25,"c":1729.75,"k":"r","f":"k","v":48,"q":"r"},
{"i":262,"o":1729.5,"h":1730.25,"l":1729.5,"c":1730,"k":"g","f":"k","v":26,"q":"r"},
{"i":263,"o":1730.25,"h":1730.5,"l":1730,"c":1730.5,"k":"g","f":"k","v":81,"q":"r"},
{"i":264,"o":1730.5,"h":1730.5,"l":1730,"c":1730.5,"k":"w","f":"k","v":55,"q":"r"},
{"i":265,"o":1730.25,"h":1730.75,"l":1730,"c":1730.25,"k":"w","f":"k","v":52,"q":"r"},
{"i":266,"o":1730.25,"h":1730.75,"l":1730.25,"c":1730.5,"k":"g","f":"k","v":84,"q":"r"},
{"i":267,"o":1730.5,"h":1732,"l":1730.5,"c":1731.5,"k":"g","f":"g","v":282,"q":"g"},
{"i":268,"o":1731.5,"h":1732,"l":1731,"c":1732,"k":"g","f":"k","v":112,"q":"w"},
{"i":269,"o":1731.75,"h":1732,"l":1731.25,"c":1731.5,"k":"r","f":"k","v":57,"q":"r"},
{"i":270,"o":1731.75,"h":1732.25,"l":1731.5,"c":1732.25,"k":"g","f":"g","v":79,"q":"r"},
{"i":271,"o":1732,"h":1732.75,"l":1731.5,"c":1732.5,"k":"g","f":"g","v":105,"q":"w"},
{"i":272,"o":1732.25,"h":1732.5,"l":1731.5,"c":1731.75,"k":"r","f":"r","v":65,"q":"r"},
{"i":273,"o":1731.75,"h":1732.25,"l":1731.5,"c":1732.25,"k":"g","f":"k","v":76,"q":"r"},
{"i":274,"o":1732,"h":1733.5,"l":1732,"c":1733.25,"k":"g","f":"g","v":174,"q":"g"},
{"i":275,"o":1733.25,"h":1733.5,"l":1732.75,"c":1733.25,"k":"w","f":"k","v":81,"q":"r"},
{"i":276,"o":1733.25,"h":1733.5,"l":1732.25,"c":1732.25,"k":"r","f":"k","v":95,"q":"w"},
{"i":277,"o":1732.25,"h":1732.75,"l":1732,"c":1732.75,"k":"g","f":"k","v":26,"q":"r"},
{"i":278,"o":1732.5,"h":1733,"l":1732.5,"c":1732.5,"k":"w","f":"k","v":24,"q":"r"},
{"i":279,"o":1732.5,"h":1733,"l":1732.5,"c":1732.5,"k":"w","f":"k","v":45,"q":"r"},
{"i":280,"o":1732.5,"h":1733,"l":1732.25,"c":1732.5,"k":"w","f":"k","v":38,"q":"r"},
{"i":281,"o":1732.5,"h":1733,"l":1732.25,"c":1732.5,"k":"w","f":"k","v":29,"q":"r"},
{"i":282,"o":1732.5,"h":1732.75,"l":1731.5,"c":1732.5,"k":"w","f":"k","v":95,"q":"w"},
{"i":283,"o":1732.75,"h":1733,"l":1731.25,"c":1731.25,"k":"r","f":"r","v":57,"q":"r"},
{"i":284,"o":1731.25,"h":1732.25,"l":1731.25,"c":1732.25,"k":"g","f":"k","v":95,"q":"w"},
{"i":285,"o":1732.25,"h":1732.75,"l":1731.75,"c":1732.5,"k":"g","f":"w","v":117,"q":"w"},
{"i":286,"o":1732.75,"h":1733.25,"l":1732.25,"c":1733.25,"k":"g","f":"g","v":100,"q":"w"},
{"i":287,"o":1733,"h":1734.75,"l":1733,"c":1734.5,"k":"g","f":"g","v":189,"q":"g"},
{"i":288,"o":1734.5,"h":1734.75,"l":1733.5,"c":1733.75,"k":"r","f":"k","v":143,"q":"g"},
{"i":289,"o":1733.5,"h":1734.75,"l":1732.5,"c":1733.25,"k":"r","f":"w","v":136,"q":"g"},
{"i":290,"o":1733,"h":1733.25,"l":1730.25,"c":1731,"k":"r","f":"r","v":117,"q":"w"},
{"i":291,"o":1731,"h":1734.5,"l":1730.75,"c":1733.5,"k":"g","f":"k","v":93,"q":"w"},
{"i":292,"o":1733.75,"h":1734.75,"l":1732.75,"c":1733.75,"k":"w","f":"k","v":95,"q":"w"},
{"i":293,"o":1734,"h":1735.25,"l":1733.75,"c":1735.25,"k":"g","f":"g","v":131,"q":"g"},
{"i":294,"o":1735.25,"h":1735.75,"l":1734.75,"c":1735.25,"k":"w","f":"k","v":79,"q":"r"},
{"i":295,"o":1735,"h":1736,"l":1734,"c":1734.25,"k":"r","f":"k","v":72,"q":"r"},
{"i":296,"o":1734.25,"h":1736.25,"l":1734.25,"c":1736,"k":"g","f":"g","v":69,"q":"r"},
{"i":297,"o":1736,"h":1736,"l":1734.25,"c":1734.5,"k":"r","f":"k","v":110,"q":"w"},
{"i":298,"o":1734.5,"h":1734.75,"l":1734,"c":1734.25,"k":"r","f":"w","v":67,"q":"r"},
{"i":299,"o":1734.25,"h":1734.5,"l":1733.5,"c":1733.75,"k":"r","f":"k","v":86,"q":"w"},
{"i":300,"o":1733.75,"h":1733.75,"l":1732,"c":1732.25,"k":"r","f":"r","v":107,"q":"w"},
{"i":301,"o":1732.25,"h":1732.5,"l":1730.25,"c":1730.75,"k":"r","f":"r","v":148,"q":"g"},
{"i":302,"o":1730.75,"h":1731.5,"l":1730.5,"c":1731.25,"k":"g","f":"w","v":119,"q":"w"},
{"i":303,"o":1731.5,"h":1732.75,"l":1731,"c":1732,"k":"g","f":"w","v":160,"q":"g"},
{"i":304,"o":1732,"h":1733.25,"l":1731.75,"c":1732.5,"k":"g","f":"w","v":57,"q":"r"},
{"i":305,"o":1732.75,"h":1733.75,"l":1732,"c":1733.25,"k":"g","f":"g","v":95,"q":"w"},
{"i":306,"o":1733.5,"h":1733.5,"l":1732.5,"c":1732.5,"k":"r","f":"k","v":31,"q":"r"},
{"i":307,"o":1732.75,"h":1733.25,"l":1731.75,"c":1732.75,"k":"w","f":"k","v":45,"q":"r"},
{"i":308,"o":1732.75,"h":1733.75,"l":1732.75,"c":1733,"k":"g","f":"w","v":45,"q":"r"},
{"i":309,"o":1733,"h":1734.5,"l":1732.75,"c":1733.75,"k":"g","f":"k","v":93,"q":"w"},
{"i":310,"o":1733.5,"h":1734.5,"l":1733.5,"c":1734.25,"k":"g","f":"k","v":65,"q":"r"},
{"i":311,"o":1734.25,"h":1734.25,"l":1733,"c":1733.25,"k":"r","f":"k","v":52,"q":"r"},
{"i":312,"o":1733.5,"h":1734.25,"l":1733.25,"c":1734.25,"k":"g","f":"k","v":40,"q":"r"},
{"i":313,"o":1734.25,"h":1735.25,"l":1734.25,"c":1735,"k":"g","f":"g","v":76,"q":"r"},
{"i":314,"o":1735,"h":1735.5,"l":1734.75,"c":1735.25,"k":"g","f":"w","v":79,"q":"r"},
{"i":315,"o":1735,"h":1735.25,"l":1734.75,"c":1734.75,"k":"r","f":"w","v":52,"q":"r"},
{"i":316,"o":1734.75,"h":1735,"l":1734.25,"c":1734.75,"k":"w","f":"k","v":57,"q":"r"},
{"i":317,"o":1735,"h":1735,"l":1733.75,"c":1734.25,"k":"r","f":"k","v":79,"q":"r"},
{"i":318,"o":1734.25,"h":1734.5,"l":1733.25,"c":1733.5,"k":"r","f":"r","v":93,"q":"w"},
{"i":319,"o":1733.5,"h":1734,"l":1732.5,"c":1734,"k":"g","f":"k","v":112,"q":"w"},
{"i":320,"o":1733.75,"h":1734.5,"l":1733.25,"c":1734.5,"k":"g","f":"g","v":181,"q":"g"},
{"i":321,"o":1734.5,"h":1735.25,"l":1734.5,"c":1735,"k":"g","f":"k","v":95,"q":"w"},
{"i":322,"o":1735.25,"h":1735.25,"l":1734.5,"c":1734.75,"k":"r","f":"k","v":88,"q":"w"},
{"i":323,"o":1734.75,"h":1735,"l":1734.5,"c":1734.75,"k":"w","f":"k","v":31,"q":"r"},
{"i":324,"o":1734.5,"h":1735,"l":1734.5,"c":1734.5,"k":"w","f":"k","v":45,"q":"r"},
{"i":325,"o":1734.75,"h":1735.25,"l":1734.5,"c":1735,"k":"g","f":"w","v":45,"q":"r"},
{"i":326,"o":1735.25,"h":1736,"l":1735,"c":1735.75,"k":"g","f":"g","v":105,"q":"w"},
{"i":327,"o":1735.75,"h":1736.25,"l":1735,"c":1735.25,"k":"r","f":"k","v":126,"q":"g"},
{"i":328,"o":1735.25,"h":1736,"l":1735,"c":1736,"k":"g","f":"k","v":62,"q":"r"},
{"i":329,"o":1736,"h":1736.25,"l":1735.5,"c":1735.75,"k":"r","f":"w","v":91,"q":"w"},
{"i":330,"o":1735.75,"h":1736.25,"l":1735,"c":1735,"k":"r","f":"k","v":76,"q":"r"}
]
},
"vconcat": [
{
 "width": 1859, "height": 709,
 "data": {"name": "bars"},
 "layer": [
  {"data": {"name": "sess"},
   "mark": {"type": "rule", "color": "#3c0044", "strokeWidth": 2},
   "encoding": {
    "x": {"field": "p", "type": "quantitative", "scale": {"domain": [-1.6, 370.2], "nice": false, "zero": false}, "axis": null},
    "y": {"datum": 1740.1, "type": "quantitative", "scale": {"domain": [1702.216, 1740.54], "nice": false, "zero": false},
          "axis": {"orient": "right", "values": [1704,1706,1708,1710,1712,1714,1716,1718,1720,1722,1724,1726,1728,1730,1732,1734,1736,1738,1740], "tickCount": 100, "labelExpr": "replace(format(datum.value, '.2f'), '.', ',')", "labelOverlap": false, "title": null}},
    "y2": {"datum": 1702.216}
   }},
  {"mark": {"type": "rule", "strokeWidth": 1},
   "encoding": {
    "x": {"field": "i", "type": "quantitative", "title": null},
    "y": {"field": "l", "type": "quantitative", "title": null},
    "y2": {"field": "h"},
    "color": {"field": "k", "type": "nominal", "scale": {"domain": ["g","r","w"], "range": ["#1fe21f","#ff4500","#ffffff"]}, "legend": null}
   }},
  {"transform": [{"filter": "datum.k != 'w'"}],
   "mark": {"type": "bar", "width": 3, "strokeWidth": 1},
   "encoding": {
    "x": {"field": "i", "type": "quantitative", "title": null},
    "y": {"field": "o", "type": "quantitative", "title": null},
    "y2": {"field": "c"},
    "stroke": {"field": "k", "type": "nominal", "scale": {"domain": ["g","r","w"], "range": ["#1fe21f","#ff4500","#ffffff"]}, "legend": null},
    "fill": {"field": "f", "type": "nominal", "scale": {"domain": ["g","r","w","k"], "range": ["#1fe21f","#ff4500","#ffffff","#000000"]}, "legend": null}
   }},
  {"transform": [{"filter": "datum.k == 'w'"}],
   "mark": {"type": "tick", "orient": "horizontal", "size": 5, "thickness": 1, "color": "#ffffff", "opacity": 1},
   "encoding": {
    "x": {"field": "i", "type": "quantitative", "title": null},
    "y": {"field": "c", "type": "quantitative", "title": null}
   }},
  {"data": {"values": [{}]},
   "mark": {"type": "rule", "color": "#ffffff", "strokeWidth": 1},
   "encoding": {"x": {"datum": -1.6}, "x2": {"datum": 382.4}, "y": {"datum": 1740.54}}},
  {"data": {"values": [{}]},
   "mark": {"type": "rule", "color": "#ffffff", "strokeWidth": 1},
   "encoding": {"x": {"datum": -1.6}, "x2": {"datum": 382.4}, "y": {"datum": 1702.216}}},
  {"data": {"values": [{}]},
   "mark": {"type": "rect", "fill": "#000000", "stroke": "#ffffff", "strokeWidth": 1},
   "encoding": {"x": {"datum": 371.7}, "x2": {"datum": 380.1}, "y": {"datum": 1735.39}, "y2": {"datum": 1734.69}}},
  {"data": {"values": [{}]},
   "mark": {"type": "text", "text": "1735,00", "color": "#ffffff", "font": "Liberation Sans", "fontSize": 11, "align": "center", "baseline": "middle"},
   "encoding": {"x": {"datum": 375.9}, "y": {"datum": 1735.04}}}
 ]
},
{
 "width": 1859, "height": 377,
 "data": {"name": "bars"},
 "layer": [
  {"data": {"name": "sess"},
   "mark": {"type": "rule", "color": "#3c0044", "strokeWidth": 2},
   "encoding": {
    "x": {"field": "p", "type": "quantitative", "scale": {"domain": [-1.6, 370.2], "nice": false, "zero": false}, "title": null,
          "axis": {"orient": "bottom", "values": [18,42,66,90,125.8,149.8,173.8,197.8,221.8,245.8,269.8,293.8,317.8], "tickCount": 100,
                   "labelExpr": "['16:00','18:00','20:00','22:00','10/18','04:00','06:00','08:00','10:00','12:00','14:00','16:00','18:00'][indexof([18,42,66,90,125.8,149.8,173.8,197.8,221.8,245.8,269.8,293.8,317.8], datum.value)]",
                   "labelOverlap": false, "labelFlush": false, "tickSize": 5, "labelPadding": 2, "title": null}}
   }},
  {"mark": {"type": "bar", "width": 3},
   "encoding": {
    "x": {"field": "i", "type": "quantitative", "title": null},
    "y": {"field": "v", "type": "quantitative", "title": null, "scale": {"domain": [-37.6, 866.4], "nice": false, "zero": false},
          "axis": {"orient": "right", "values": [0,50,100,150,200,250,300,350,400,450,500,550,600,650,700,750,800], "tickCount": 100, "labelOverlap": false, "title": null}},
    "y2": {"datum": 0},
    "color": {"field": "q", "type": "nominal", "scale": {"domain": ["g","r","w"], "range": ["#008000","#ff0000","#ffffff"]}, "legend": null}
   }},
  {"data": {"values": [{}]},
   "mark": {"type": "rule", "color": "#d8d8d8", "strokeWidth": 1},
   "encoding": {"y": {"datum": 0}}},
  {"data": {"name": "avg"},
   "mark": {"type": "line", "strokeWidth": 2},
   "encoding": {
    "x": {"field": "i", "type": "quantitative", "title": null},
    "y": {"field": "a", "type": "quantitative", "title": null},
    "detail": {"field": "s", "type": "nominal"},
    "stroke": {"field": "k", "type": "nominal", "scale": {"domain": ["b","o"], "range": ["#add8e6","#ffa500"]}, "legend": null}
   }},
  {"data": {"values": [{}]},
   "mark": {"type": "text", "text": "anaRelativeVolumeV15", "color": "#ffffff", "font": "Liberation Sans", "fontSize": 11, "align": "left", "baseline": "middle"},
   "encoding": {"x": {"datum": -1.0}, "y": {"datum": 824}}},
  {"data": {"values": [{}]},
   "mark": {"type": "text", "text": "© 2013 NinjaTrader, LLC", "color": "#ffffff", "font": "Liberation Sans", "fontSize": 11, "align": "left", "baseline": "middle"},
   "encoding": {"x": {"datum": -1.0}, "y": {"datum": -21}}},
  {"data": {"values": [{}]},
   "mark": {"type": "text", "text": "86 %", "color": "#ffffff", "font": "Liberation Sans", "fontSize": 17, "align": "left", "baseline": "middle"},
   "encoding": {"x": {"datum": 333}, "y": {"datum": 84.7}}},
  {"data": {"values": [{}]},
   "mark": {"type": "rect", "fill": "#ff0000", "stroke": "#ffffff", "strokeWidth": 1},
   "encoding": {"x": {"datum": 370.8}, "x2": {"datum": 374.4}, "y": {"datum": 84.7}, "y2": {"datum": 58}}},
  {"data": {"values": [{}]},
   "mark": {"type": "rect", "fill": "#ffa500", "stroke": "#ffffff", "strokeWidth": 1},
   "encoding": {"x": {"datum": 371.2}, "x2": {"datum": 377.8}, "y": {"datum": 103.7}, "y2": {"datum": 70.3}}},
  {"data": {"values": [{}]},
   "mark": {"type": "text", "text": "85,63", "color": "#000000", "font": "Liberation Sans", "fontSize": 11, "align": "center", "baseline": "middle"},
   "encoding": {"x": {"datum": 374.6}, "y": {"datum": 87}}},
  {"data": {"values": [{}]},
   "mark": {"type": "rect", "fill": "#000000", "stroke": "#ffffff", "strokeWidth": 1},
   "encoding": {"x": {"datum": 379.2}, "x2": {"datum": 382}, "y": {"datum": 847}, "y2": {"datum": 818}}},
  {"data": {"values": [{}]},
   "mark": {"type": "text", "text": "F", "color": "#ffffff", "font": "Liberation Sans", "fontSize": 9, "align": "center", "baseline": "middle"},
   "encoding": {"x": {"datum": 380.6}, "y": {"datum": 832}}}
 ]
}
]
}
